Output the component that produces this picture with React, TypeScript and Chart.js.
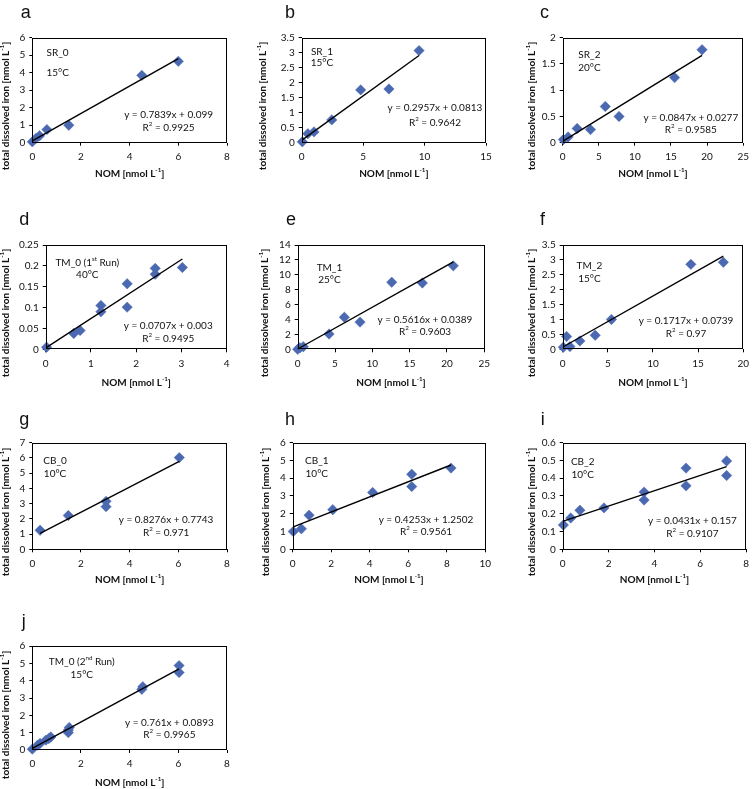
import React, { useEffect, useRef } from "react";
import { Chart, registerables } from "chart.js";

Chart.register(...registerables);

const FONT = "Lato, 'Open Sans', sans-serif";
const LETTER_FONT = "'Liberation Sans', Arial, sans-serif";
const BLUE = "#4A69B1";
const TXT = 10;

// ---------- data ----------
// a: SR_0
const xA = [0, 0.15, 0.3, 0.6, 1.5, 4.5, 6.0];
const yA = [0.05, 0.25, 0.4, 0.75, 1.0, 3.85, 4.65];
// b: SR_1
const xB = [0.05, 0.5, 1.0, 2.45, 4.8, 7.1, 9.55];
const yB = [0.03, 0.3, 0.36, 0.76, 1.76, 1.79, 3.07];
// c: SR_2
const xC = [0.1, 0.75, 2.0, 3.85, 5.9, 7.8, 15.5, 19.3];
const yC = [0.06, 0.11, 0.27, 0.25, 0.69, 0.5, 1.24, 1.77];
// d: TM_0 (1st run)
const xD = [0.02, 0.62, 0.76, 1.22, 1.22, 1.8, 1.8, 2.42, 2.42, 3.02];
const yD = [0.005, 0.038, 0.045, 0.105, 0.09, 0.157, 0.101, 0.194, 0.18, 0.196];
// e: TM_1
const xE = [0, 0.3, 0.75, 4.2, 6.25, 8.35, 12.6, 16.7, 20.85];
const yE = [0, 0.2, 0.35, 2.05, 4.3, 3.65, 9.0, 8.9, 11.2];
// f: TM_2
const xF = [0.07, 0.43, 0.8, 1.9, 3.6, 5.4, 14.2, 17.8];
const yF = [0.07, 0.43, 0.09, 0.28, 0.47, 1.0, 2.85, 2.92];
// g: CB_0
const xG = [0.32, 1.48, 3.03, 3.03, 6.04];
const yG = [1.25, 2.22, 3.15, 2.8, 6.02];
// h: CB_1
const xH = [0.03, 0.45, 0.85, 2.08, 4.15, 6.18, 6.18, 8.22];
const yH = [1.0, 1.15, 1.92, 2.23, 3.2, 4.22, 3.53, 4.57];
// i: CB_2
const xI = [0.03, 0.35, 0.75, 1.8, 3.55, 3.55, 5.38, 5.38, 7.15, 7.15];
const yI = [0.137, 0.176, 0.22, 0.233, 0.322, 0.277, 0.457, 0.357, 0.497, 0.415];
// j: TM_0 (2nd run)
const xJ = [0, 0.22, 0.32, 0.56, 0.68, 0.76, 1.48, 1.48, 1.52, 4.5, 4.54, 6.03, 6.03];
const yJ = [0.05, 0.28, 0.38, 0.57, 0.66, 0.75, 1.15, 1.0, 1.3, 3.5, 3.65, 4.87, 4.47];

const xValues = [xA, xB, xC, xD, xE, xF, xG, xH, xI, xJ];
const yValues = [yA, yB, yC, yD, yE, yF, yG, yH, yI, yJ];

const panelLetters = ["a", "b", "c", "d", "e", "f", "g", "h", "i", "j"];
const sampleNames = [
  "SR_0", "SR_1", "SR_2", "TM_0 (1^{st} Run)", "TM_1", "TM_2",
  "CB_0", "CB_1", "CB_2", "TM_0 (2^{nd} Run)",
];
const temperatures = ["15°C", "15°C", "20°C", "40°C", "25°C", "15°C", "10°C", "10°C", "10°C", "15°C"];
const slopes = [0.7839, 0.2957, 0.0847, 0.0707, 0.5616, 0.1717, 0.8276, 0.4253, 0.0431, 0.761];
const intercepts = [0.099, 0.0813, 0.0277, 0.003, 0.0389, 0.0739, 0.7743, 1.2502, 0.157, 0.0893];
const rSquared = ["0.9925", "0.9642", "0.9585", "0.9495", "0.9603", "0.97", "0.971", "0.9561", "0.9107", "0.9965"];

const xMax = [8, 15, 25, 4, 25, 20, 8, 10, 8, 8];
const xStep = [2, 5, 5, 1, 5, 5, 2, 2, 2, 2];
const yMax = [6, 3.5, 2, 0.25, 14, 3.5, 7, 6, 0.6, 6];
const yStep = [1, 0.5, 0.5, 0.05, 2, 0.5, 1, 1, 0.1, 1];

const yAxisTitle = "total dissolved iron [nmol L^{-1}]";
const xAxisTitle = "NOM [nmol L^{-1}]";

// ---------- layout (absolute page pixels) ----------
type Layout = {
  cell: [number, number, number, number];
  plot: [number, number, number, number]; // left, top, right, bottom
  letter: [number, number];
  yTitleX: number;
  yTitleY: number;
  xTitleY: number;
  name: [number, number, number];
  eq: [number, number, number];
};

const COLS: [number, number][] = [[0, 250], [250, 250], [500, 254]];
const ROWS: [number, number][] = [[0, 195], [195, 197], [392, 200], [592, 197]];
const ROW_PLOT: [number, number][] = [[37.7, 142.7], [245, 349.3], [442.7, 549.3], [646, 750]];
const ROW_LETTER_Y = [18, 225, 425, 627];
const ROW_XTITLE_Y = [174, 382.7, 580, 782.7];
const ROW_YTITLE_Y = [106, 313, 512, 715];

const PLOT_LR: [number, number][] = [
  [32.3, 227], [301.7, 486], [562.7, 746.7],
  [45.7, 226.7], [297.7, 484.3], [562.7, 746.7],
  [32.3, 227], [292.7, 485.3], [562.7, 746.7],
  [32.3, 227],
];
const LETTER_X = [20.7, 285, 540, 19.3, 286, 540, 19.3, 285, 540.7, 21.7];
const YTITLE_X = [6, 262.7, 531.7, 6, 265, 531.7, 6, 266, 531.7, 6];
const NAME_POS: [number, number, number][] = [
  [0.13, 0.146, 0.33], [0.11, 0.133, 0.238], [0.148, 0.165, 0.286],
  [0.23, 0.17, 0.288], [0.17, 0.223, 0.336], [0.148, 0.195, 0.32],
  [0.117, 0.172, 0.287], [0.125, 0.172, 0.296], [0.109, 0.178, 0.303],
  [0.254, 0.151, 0.272],
];
const EQ_POS: [number, number, number][] = [
  [0.7, 0.73, 0.857], [0.723, 0.672, 0.806], [0.71, 0.762, 0.879],
  [0.677, 0.774, 0.9], [0.682, 0.713, 0.83], [0.683, 0.728, 0.856],
  [0.687, 0.719, 0.844], [0.692, 0.719, 0.84], [0.707, 0.73, 0.856],
  [0.704, 0.734, 0.856],
];

function layoutFor(i: number): Layout {
  const r = Math.floor(i / 3);
  const c = i % 3;
  const [cx, cw] = COLS[c];
  const [cy, ch] = ROWS[r];
  return {
    cell: [cx, cy, cw, ch],
    plot: [PLOT_LR[i][0], ROW_PLOT[r][0], PLOT_LR[i][1], ROW_PLOT[r][1]],
    letter: [LETTER_X[i], ROW_LETTER_Y[r]],
    yTitleX: YTITLE_X[i],
    yTitleY: ROW_YTITLE_Y[r],
    xTitleY: ROW_XTITLE_Y[r],
    name: NAME_POS[i],
    eq: EQ_POS[i],
  };
}

// ---------- rich text helper ----------
type Part = { t: string; sup: boolean };
function parseRich(s: string): Part[] {
  const parts: Part[] = [];
  const re = /\^\{([^}]*)\}/g;
  let last = 0;
  let m: RegExpExecArray | null;
  while ((m = re.exec(s))) {
    if (m.index > last) parts.push({ t: s.slice(last, m.index), sup: false });
    parts.push({ t: m[1], sup: true });
    last = m.index + m[0].length;
  }
  if (last < s.length) parts.push({ t: s.slice(last), sup: false });
  return parts;
}

function drawRich(ctx: CanvasRenderingContext2D, s: string, x: number, y: number, size: number, bold: boolean, family: string) {
  const parts = parseRich(s);
  const w = bold ? "bold " : "";
  const fontFor = (p: Part) => `${w}${p.sup ? size * 0.62 : size}px ${family}`;
  let total = 0;
  for (const p of parts) {
    ctx.font = fontFor(p);
    total += ctx.measureText(p.t).width;
  }
  let cx = x - total / 2;
  ctx.textAlign = "left";
  ctx.textBaseline = "middle";
  for (const p of parts) {
    ctx.font = fontFor(p);
    ctx.fillText(p.t, cx, p.sup ? y - size * 0.38 : y);
    cx += ctx.measureText(p.t).width;
  }
}

const fmt = (v: number | string) => String(Number(Number(v).toFixed(4)));

function Panel({ idx }: { idx: number }) {
  const ref = useRef<HTMLCanvasElement>(null);
  const L = layoutFor(idx);
  const [cx, cy, cw, ch] = L.cell;
  const [pl, pt, pr, pb] = L.plot;

  useEffect(() => {
    const xs = xValues[idx];
    const ys = yValues[idx];
    const pts = xs.map((x, k) => ({ x, y: ys[k] }));
    const x0 = Math.min(...xs);
    const x1 = Math.max(...xs);
    const trend = [
      { x: x0, y: slopes[idx] * x0 + intercepts[idx] },
      { x: x1, y: slopes[idx] * x1 + intercepts[idx] },
    ];

    const decor = {
      id: "decor" + idx,
      afterDraw(chart: any) {
        const ctx: CanvasRenderingContext2D = chart.ctx;
        const a = chart.chartArea;
        ctx.save();
        // plot border
        ctx.strokeStyle = "#000";
        ctx.lineWidth = 1;
        ctx.strokeRect(Math.round(a.left) + 0.5, Math.round(a.top) + 0.5, Math.round(a.right - a.left) - 1, Math.round(a.bottom - a.top) - 1);
        ctx.fillStyle = "#111";
        // letter
        ctx.font = `18px ${LETTER_FONT}`;
        ctx.textAlign = "left";
        ctx.textBaseline = "alphabetic";
        ctx.fillText(panelLetters[idx], L.letter[0] - cx, L.letter[1] - cy);
        // y title
        ctx.save();
        ctx.translate(L.yTitleX - cx, L.yTitleY - cy);
        ctx.rotate(-Math.PI / 2);
        drawRich(ctx, yAxisTitle, 0, 0, TXT, true, FONT);
        ctx.restore();
        // x title
        drawRich(ctx, xAxisTitle, (a.left + a.right) / 2, L.xTitleY - cy, TXT, true, FONT);
        // sample label
        const W = a.right - a.left;
        const H = a.bottom - a.top;
        drawRich(ctx, sampleNames[idx], a.left + W * L.name[0], a.top + H * L.name[1], TXT, false, FONT);
        drawRich(ctx, temperatures[idx], a.left + W * L.name[0], a.top + H * L.name[2], TXT, false, FONT);
        // equation
        drawRich(ctx, `y = ${slopes[idx]}x + ${intercepts[idx]}`, a.left + W * L.eq[0], a.top + H * L.eq[1], TXT, false, FONT);
        drawRich(ctx, `R^{2} = ${rSquared[idx]}`, a.left + W * L.eq[0], a.top + H * L.eq[2], TXT, false, FONT);
        ctx.restore();
      },
    };

    const tickFont = { family: FONT, size: TXT };
    const chart = new Chart(ref.current!, {
      type: "scatter",
      data: {
        datasets: [
          {
            data: trend,
            showLine: true,
            borderColor: "#000",
            borderWidth: 1.4,
            pointRadius: 0,
            order: 0,
            clip: false,
          } as any,
          {
            data: pts,
            pointStyle: "rectRot",
            pointRadius: 5.2,
            backgroundColor: BLUE,
            borderColor: BLUE,
            borderWidth: 0.5,
            order: 1,
            clip: false,
          } as any,
        ],
      },
      options: {
        animation: false,
        responsive: false,
        events: [],
        layout: {
          padding: { left: 0, top: pt - cy, right: cx + cw - pr, bottom: 0 },
        },
        plugins: { legend: { display: false }, tooltip: { enabled: false } },
        scales: {
          x: {
            type: "linear",
            min: 0,
            max: xMax[idx],
            ticks: { stepSize: xStep[idx], font: tickFont, color: "#111", padding: 5, maxRotation: 0, autoSkip: false, callback: fmt },
            grid: { display: true, drawOnChartArea: false, drawTicks: true, tickLength: 3, color: "#000" },
            border: { display: false },
            afterFit: (s: any) => { s.height = cy + ch - pb; },
          },
          y: {
            type: "linear",
            min: 0,
            max: yMax[idx],
            ticks: { stepSize: yStep[idx], font: tickFont, color: "#111", padding: 4, autoSkip: false, callback: fmt },
            grid: { display: true, drawOnChartArea: false, drawTicks: true, tickLength: 3, color: "#000" },
            border: { display: false },
            afterFit: (s: any) => { s.width = pl - cx; },
          },
        },
      } as any,
      plugins: [decor],
    });
    return () => chart.destroy();
  }, [idx]);

  return (
    <canvas
      ref={ref}
      width={cw}
      height={ch}
      style={{ position: "absolute", left: cx, top: cy, width: cw, height: ch }}
    />
  );
}

export default function App() {
  return (
    <div style={{ position: "absolute", left: 0, top: 0, width: 754, height: 789, background: "#fff" }}>
      {panelLetters.map((_, i) => (
        <Panel key={i} idx={i} />
      ))}
    </div>
  );
}
